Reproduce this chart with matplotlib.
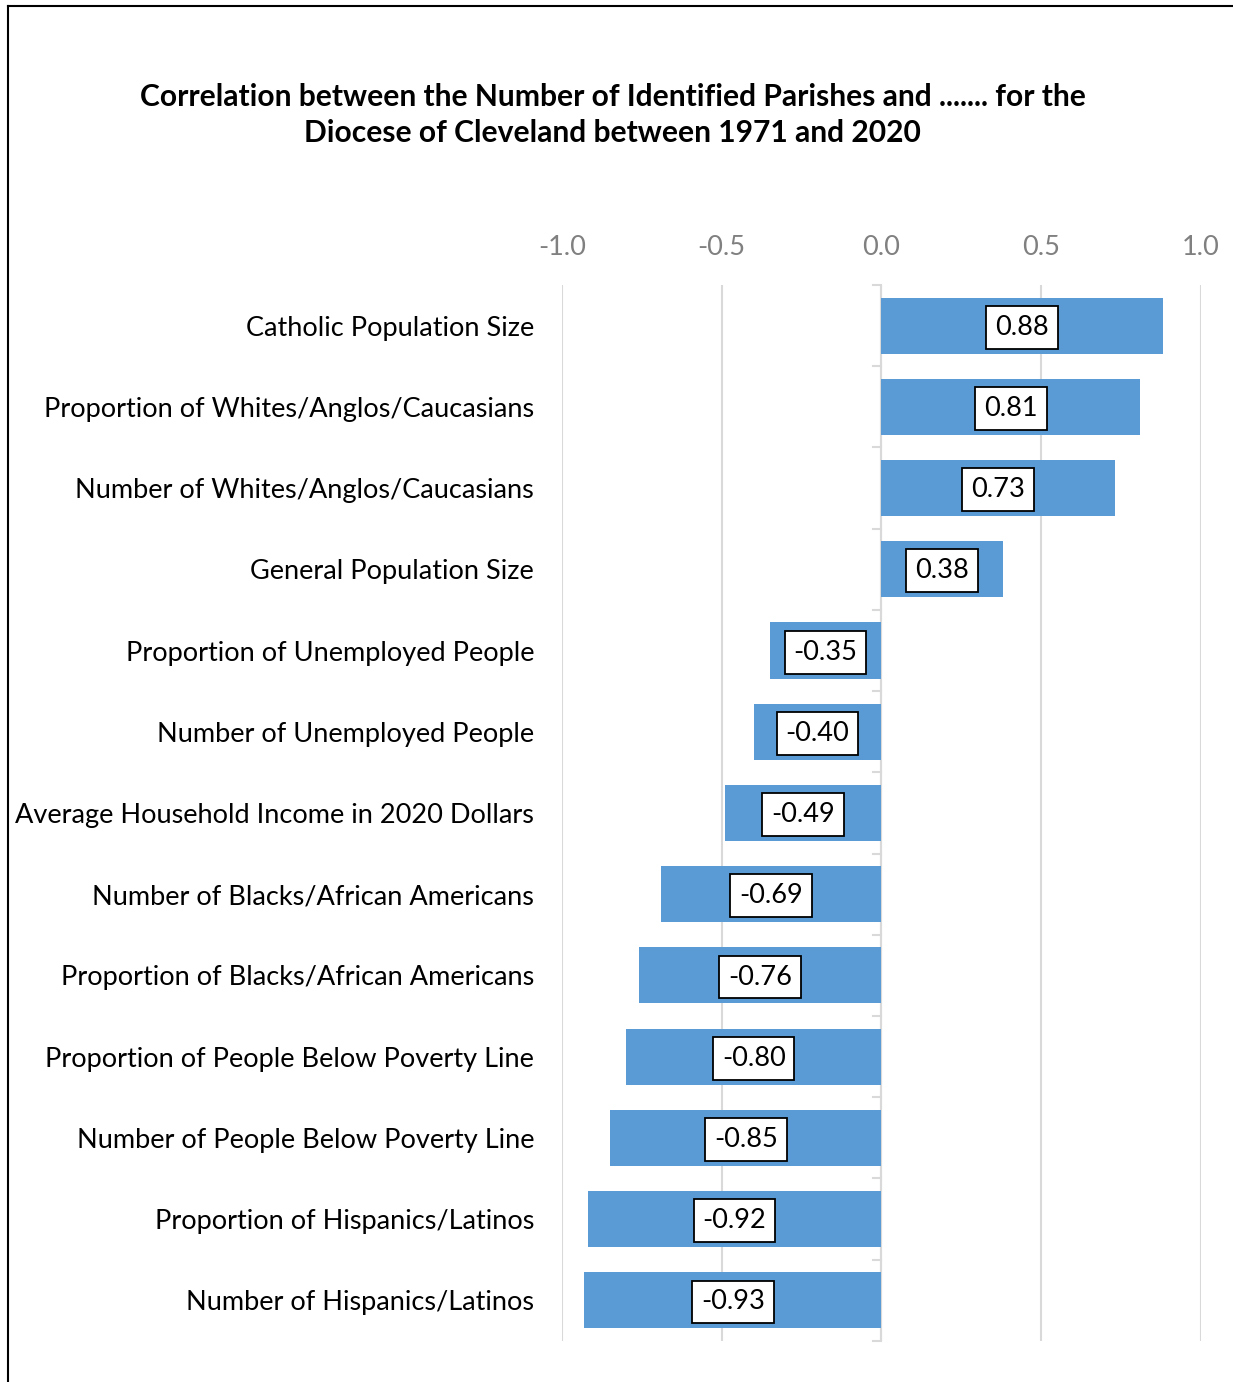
import matplotlib.pyplot as plt
from matplotlib.lines import Line2D

plt.rcParams["font.family"] = ["Lato", "DejaVu Sans"]

categories = [
    "Catholic Population Size",
    "Proportion of Whites/Anglos/Caucasians",
    "Number of Whites/Anglos/Caucasians",
    "General Population Size",
    "Proportion of Unemployed People",
    "Number of Unemployed People",
    "Average Household Income in 2020 Dollars",
    "Number of Blacks/African Americans",
    "Proportion of Blacks/African Americans",
    "Proportion of People Below Poverty Line",
    "Number of People Below Poverty Line",
    "Proportion of Hispanics/Latinos",
    "Number of Hispanics/Latinos",
]
values = [0.88, 0.81, 0.73, 0.38, -0.35, -0.40, -0.49, -0.69, -0.76, -0.80, -0.85, -0.92, -0.93]
x_ticks = [-1.0, -0.5, 0.0, 0.5, 1.0]

bar_color = "#5B9BD5"
grid_color = "#D9D9D9"

fig = plt.figure(figsize=(12.33, 13.82), dpi=100)
ax = fig.add_axes([0.4558, 0.0297, 0.974 - 0.4558, 0.7938 - 0.0297])

y = list(range(len(categories)))
ax.barh(y, values, height=0.69, color=bar_color, zorder=2)

# value labels in white boxes at bar centres
for yi, v in zip(y, values):
    ax.text(v / 2, yi + 0.02, f"{v:.2f}", ha="center", va="center", fontsize=19.5,
            zorder=3,
            bbox=dict(boxstyle="square,pad=0.33", fc="white", ec="black", lw=1.3))

ax.set_xlim(-1.0, 1.0)
ax.set_ylim(len(categories) - 0.5, -0.5)
ax.set_xticks(x_ticks)
ax.set_xticklabels([f"{t:.1f}" for t in x_ticks], color="#808080", fontsize=19.5)
ax.xaxis.tick_top()
ax.tick_params(axis="x", length=0, pad=18)
ax.grid(axis="x", color=grid_color, lw=1.5, zorder=0)

ax.set_yticks(y)
ax.set_yticklabels(categories, fontsize=19.5)
ax.tick_params(axis="y", length=0, pad=20)

for s in ["top", "right", "bottom", "left"]:
    ax.spines[s].set_visible(False)

# category axis line at zero with small boundary ticks
ax.axvline(0, color=grid_color, lw=1.5, zorder=1)
for b in [i - 0.5 for i in range(len(categories) + 1)]:
    ax.plot([-0.025, 0], [b, b], color=grid_color, lw=1.5, zorder=1, clip_on=False)

fig.text(0.497, 0.917,
         "Correlation between the Number of Identified Parishes and ....... for the\n"
         "Diocese of Cleveland between 1971 and 2020",
         ha="center", va="center", fontsize=21.6, fontweight="bold", linespacing=1.35)

# frame lines (top and left of chart area)
fig.add_artist(Line2D([8 / 1233, 1], [1 - 6 / 1382, 1 - 6 / 1382], color="black", lw=1.5))
fig.add_artist(Line2D([8 / 1233, 8 / 1233], [0, 1 - 6 / 1382], color="black", lw=1.5))

fig.savefig("out.png", dpi=100)
